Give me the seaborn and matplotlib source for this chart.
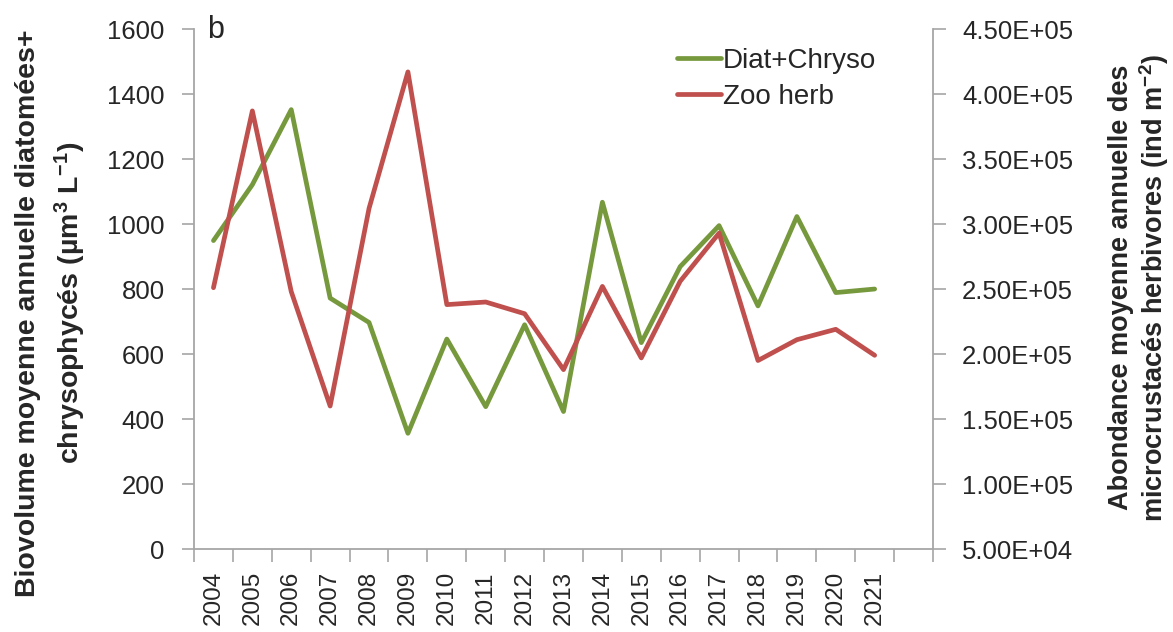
import matplotlib
matplotlib.use("Agg")
import matplotlib.pyplot as plt
from matplotlib.lines import Line2D
from matplotlib.ticker import FuncFormatter, FixedLocator
import seaborn as sns
import pandas as pd
import numpy as np

years = [2004, 2005, 2006, 2007, 2008, 2009, 2010, 2011, 2012,
         2013, 2014, 2015, 2016, 2017, 2018, 2019, 2020, 2021]
diat_chryso = [949, 1121, 1352, 772, 697, 356, 646, 438, 690,
               423, 1067, 635, 869, 995, 748, 1023, 789, 800]
zoo_herb = [2.51e5, 3.87e5, 2.48e5, 1.60e5, 3.12e5, 4.17e5, 2.38e5, 2.40e5, 2.31e5,
            1.88e5, 2.52e5, 1.97e5, 2.56e5, 2.93e5, 1.95e5, 2.11e5, 2.19e5, 1.99e5]
left_ticks = [0, 200, 400, 600, 800, 1000, 1200, 1400, 1600]
right_ticks = [5e4, 1e5, 1.5e5, 2e5, 2.5e5, 3e5, 3.5e5, 4e5, 4.5e5]

sns.set_style("white")
plt.rcParams['font.family'] = ['Liberation Sans', 'DejaVu Sans']
plt.rcParams['mathtext.default'] = 'regular'
BOLDF = ['Liberation Sans Narrow', 'Liberation Sans', 'DejaVu Sans']

GREEN = "#77993d"
RED = "#c0504d"
SPINE = "#a6a6a6"
LW = 3.4

df = pd.DataFrame({"pos": np.arange(len(years)), "year": years,
                   "diat": diat_chryso, "zoo": zoo_herb})

fig = plt.figure(figsize=(11.73, 6.32), dpi=100)
ax = fig.add_axes([0.1654, 0.1313, 0.6300, 0.8228])
ax2 = ax.twinx()

sns.lineplot(data=df, x="pos", y="diat", ax=ax, color=GREEN, linewidth=LW)
sns.lineplot(data=df, x="pos", y="zoo", ax=ax2, color=RED, linewidth=LW)

n = len(years)
ax.set_xlim(-0.5, n + 0.5)
ax.set_ylim(0, 1600)
ax2.set_ylim(5e4, 4.5e5)

ax.set_yticks(left_ticks)
ax.set_yticklabels([str(t) for t in left_ticks], fontsize=18.5)
ax2.set_yticks(right_ticks)
ax2.yaxis.set_major_formatter(FuncFormatter(lambda v, p: "{:.2E}".format(v)))
for lab in ax2.get_yticklabels():
    lab.set_fontsize(18.5)

ax.set_xticks(np.arange(n))
ax.set_xticklabels([str(y) for y in years], rotation=90, fontsize=17.5)
ax.xaxis.set_minor_locator(FixedLocator(np.arange(-0.5, n + 1, 1.0)))
ax.tick_params(axis='x', which='major', length=0, pad=16)
ax.tick_params(axis='x', which='minor', length=9, width=1.2, color=SPINE, direction='out', bottom=True)
ax.tick_params(axis='y', length=9, width=1.2, color=SPINE, direction='out', left=True, pad=12)
ax2.tick_params(axis='y', length=9, width=1.2, color=SPINE, direction='out', right=True, pad=12)

for a in (ax, ax2):
    a.spines['top'].set_visible(False)
    for s in a.spines.values():
        s.set_color(SPINE)
        s.set_linewidth(1.3)
ax.spines['right'].set_visible(False)
ax2.spines['left'].set_visible(False)
ax2.spines['bottom'].set_visible(False)
ax.grid(False)
ax2.grid(False)

ax.set_xlabel("")
ax.set_ylabel("")
ax2.set_ylabel("")

fig.text(0.024, 0.505, "Biovolume moyenne annuelle diatomées+",
         rotation=90, ha='center', va='center', fontsize=20.5, fontweight='bold', family=BOLDF)
fig.text(0.060, 0.52, "chrysophycés (µm$^3$ L$^{-1}$)",
         rotation=90, ha='center', va='center', fontsize=20.5, fontweight='bold', family=BOLDF)
fig.text(0.956, 0.545, "Abondance moyenne annuelle des",
         rotation=90, ha='center', va='center', fontsize=19.5, fontweight='bold', family=BOLDF)
fig.text(0.984, 0.545, "microcrustacés herbivores (ind m$^{-2}$)",
         rotation=90, ha='center', va='center', fontsize=19.5, fontweight='bold', family=BOLDF)

fig.text(207 / 1173, 1 - 15 / 632, "b", ha='left', va='top', fontsize=22)

handles = [Line2D([], [], color=GREEN, linewidth=LW),
           Line2D([], [], color=RED, linewidth=LW)]
leg = ax.legend(handles, ["Diat+Chryso", "Zoo herb"], loc='upper left',
                bbox_to_anchor=(677 / 1173, 1 - 48 / 632), bbox_transform=fig.transFigure,
                frameon=False, fontsize=20,
                handlelength=1.6, handletextpad=0.05, labelspacing=0.35,
                borderaxespad=0, borderpad=0)

fig.savefig("out.png", dpi=100)
